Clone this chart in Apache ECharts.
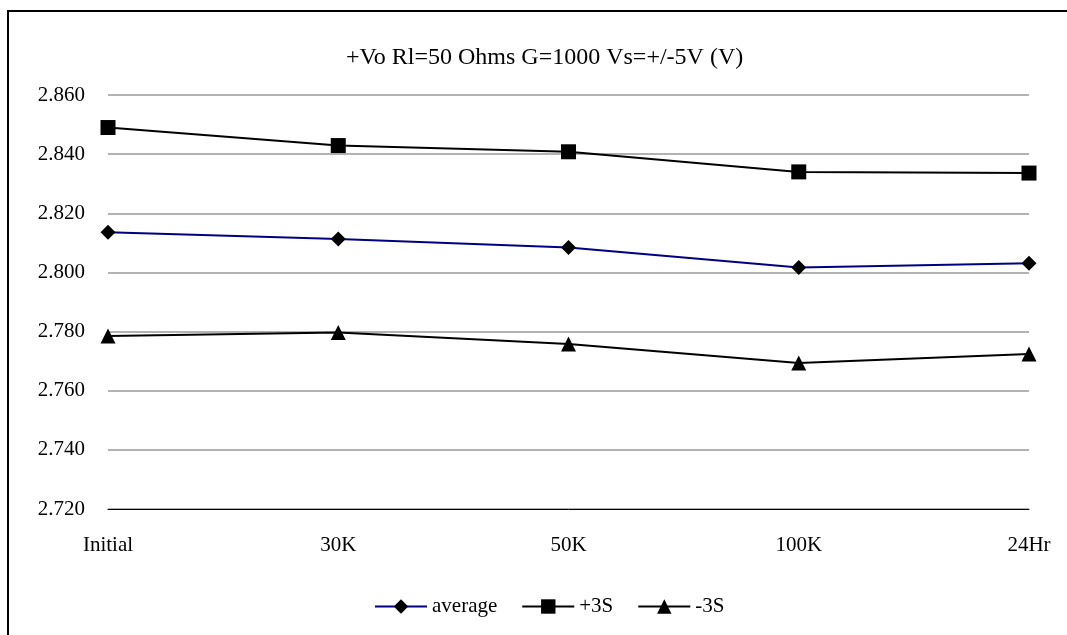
<!DOCTYPE html>
<html>
<head>
<meta charset="utf-8">
<script src="https://cdn.jsdelivr.net/npm/echarts@6/dist/echarts.min.js"></script>
<style>html,body{margin:0;padding:0;background:#fff}#c{width:1067px;height:635px}</style>
</head>
<body>
<div id="c"></div>
<script>
const titleText = '+Vo Rl=50 Ohms G=1000 Vs=+/-5V (V)';
const categories = ['Initial', '30K', '50K', '100K', '24Hr'];
const average = [2.8136, 2.8113, 2.8084, 2.8017, 2.8031];
const plus3S = [2.8490, 2.8429, 2.8408, 2.8340, 2.8336];
const minus3S = [2.7785, 2.7797, 2.7758, 2.7694, 2.7724];
const yMin = 2.72, yMax = 2.86, yStep = 0.02;

const font = '"Liberation Serif", "Times New Roman", serif';
const chart = echarts.init(document.getElementById('c'));
chart.setOption({
  backgroundColor: '#fff',
  animation: false,
  title: {
    text: titleText, left: 341, top: 41,
    textStyle: { fontFamily: font, fontSize: 24, fontWeight: 'normal', color: '#000' }
  },
  graphic: [{
    type: 'rect', shape: { x: 8, y: 11, width: 1100, height: 700 },
    style: { fill: 'none', stroke: '#000', lineWidth: 2 }, silent: true, z: -1
  }],
  grid: { left: 108, right: 38, top: 95, bottom: 126 },
  legend: {
    top: 591, left: 369, itemWidth: 52, itemHeight: 18, itemGap: 24,
    textStyle: { fontFamily: font, fontSize: 21, color: '#000', padding: [0, 0, 0, 0] },
    data: ['average', '+3S', '-3S']
  },
  xAxis: {
    type: 'category', data: categories, boundaryGap: false,
    axisLine: { lineStyle: { color: '#000', width: 1 } },
    axisTick: { show: false },
    axisLabel: { fontFamily: font, fontSize: 21, color: '#000', margin: 26 }
  },
  yAxis: {
    type: 'value', min: yMin, max: yMax, interval: yStep,
    axisLine: { show: false }, axisTick: { show: false },
    axisLabel: { fontFamily: font, fontSize: 21, color: '#000', margin: 23,
      formatter: v => v.toFixed(3) },
    splitLine: { lineStyle: { color: '#999', width: 1.5 } }
  },
  series: [
    { name: 'average', type: 'line', data: average, symbol: 'diamond', symbolSize: 15,
      lineStyle: { color: '#000080', width: 2 }, itemStyle: { color: '#000' } },
    { name: '+3S', type: 'line', data: plus3S, symbol: 'rect', symbolSize: 15,
      lineStyle: { color: '#000', width: 2 }, itemStyle: { color: '#000' } },
    { name: '-3S', type: 'line', data: minus3S, symbol: 'triangle', symbolSize: 15,
      lineStyle: { color: '#000', width: 2 }, itemStyle: { color: '#000' } }
  ]
});
</script>
</body>
</html>
